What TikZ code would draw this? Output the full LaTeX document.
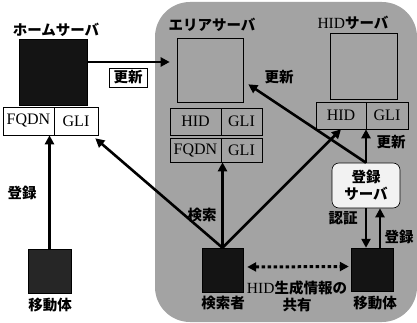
\documentclass[tikz,border=0pt]{standalone}
\usepackage{fontspec}
\setmainfont{Liberation Serif}
\newfontfamily\jp{Noto Sans CJK JP}
\usetikzlibrary{arrows.meta,calc}
\definecolor{bggray}{gray}{0.64}
\definecolor{reggray}{gray}{0.95}
\begin{document}
\begin{tikzpicture}[x=1pt,y=-1pt,
  jl/.style={font=\jp\bfseries\fontsize{14.5}{17}\selectfont, inner sep=0pt},
  cell/.style={draw, line width=0.6pt, inner sep=0pt, font=\fontsize{16}{17}\selectfont},
  blk/.style={fill=black!92, draw=black, inner sep=0pt},
  arr/.style={line width=2.6pt, -{Triangle[length=9pt,width=9pt]}},
  dotarr/.style={line width=3pt, dash pattern=on 3.5pt off 2.5pt,
    {Triangle[length=9pt,width=9pt]}-{Triangle[length=9pt,width=9pt]}},
  thinbox/.style={draw, line width=0.6pt, inner sep=0pt}
]
\useasboundingbox (0,0) rectangle (417,323);
\fill[bggray, rounded corners=35pt] (155,2) rectangle (417,322);

% home server
\node[jl] (homelbl) at (56,30) {ホームサーバ};
\node[blk, minimum width=68pt, minimum height=66pt] (homebox) at (53,72) {};
\node[cell, fill=white, minimum width=51pt, minimum height=28pt] (hfqdn) at (28.5,121) {FQDN};
\node[cell, fill=white, minimum width=44pt, minimum height=28pt] (hgli) at (76,121) {GLI};

% area server
\node[jl] (arealbl) at (212,25) {エリアサーバ};
\node[thinbox, minimum width=66pt, minimum height=64pt] (areabox) at (210,70) {};
\node[cell, minimum width=51pt, minimum height=27pt] (a1hid) at (195.5,121.5) {HID};
\node[cell, minimum width=41pt, minimum height=27pt] (a1gli) at (241.5,121.5) {GLI};
\node[cell, minimum width=51pt, minimum height=24pt] (a2fqdn) at (195.5,150) {FQDN};
\node[cell, minimum width=41pt, minimum height=24pt] (a2gli) at (241.5,150) {GLI};

% HID server
\node[jl] (hidlbl) at (353,23) {{\normalfont\fontsize{15.5}{17}\selectfont HID}サーバ};
\node[thinbox, minimum width=67pt, minimum height=66pt] (hidbox) at (363.5,66) {};
\node[cell, minimum width=50pt, minimum height=27pt] (hhid) at (341,115.5) {HID};
\node[cell, minimum width=42pt, minimum height=27pt] (hgli2) at (387,115.5) {GLI};

% registration server
\node[jl, draw, fill=reggray, rounded corners=7pt, line width=0.6pt, minimum width=68pt, minimum height=45pt, align=center] (reg) at (366,185.5) {登録\\サーバ};

% actors
\node[blk, minimum width=41pt, minimum height=44pt] (srch) at (222.5,270) {};
\node[blk, minimum width=42pt, minimum height=43pt] (rmob) at (372,269.5) {};
\node[blk, fill=black!85, minimum width=43pt, minimum height=44pt] (lmob) at (49.5,271) {};
\node[jl] (srchlbl) at (223,303) {検索者};
\node[jl] (rmoblbl) at (375,303) {移動体};
\node[jl] (lmoblbl) at (50,305) {移動体};
\node[jl, align=center] (sharelbl) at (297,296) {{\normalfont\fontsize{15.5}{17}\selectfont HID}生成情報の\\共有};

% labels
\node[jl, draw, fill=white, line width=0.6pt, minimum width=38pt, minimum height=19pt] (upd1) at (128,77.5) {更新};
\node[jl] (upd2) at (279,77) {更新};
\node[jl] (upd3) at (391,142) {更新};
\node[jl] (auth) at (343,218) {認証};
\node[jl] (regR) at (399,237) {登録};
\node[jl] (regL) at (22,193) {登録};
\node[jl] (srchL) at (202,215) {検索};

% arrows
\draw[arr] ($(homebox.east)+(1,-10)$) -- ($(areabox.west)+(-7,-8)$);
\draw[arr] (lmob.north) -- (lmob.north |- hfqdn.south);
\draw[arr] (srch.north) -- ($(hgli.south east)+(-3,3)$);
\draw[arr] (srch.north) -- (srch.north |- a2gli.south);
\draw[arr] (srch.north) -- (hhid.south);
\draw[arr] (reg.north) -- ($(areabox.south east)+(5,-18)$);
\draw[arr] (reg.north) -- (reg.north |- hhid.south);
\draw[arr] (reg.south) -- (reg.south |- rmob.north);
\coordinate (upS) at ($(rmob.north)+(8,0)$);
\draw[arr] (upS) -- (upS |- reg.south);
\draw[dotarr] ($(srch.east)+(4,-3)$) -- ($(rmob.west)+(-2,-3)$);
\end{tikzpicture}
\end{document}
